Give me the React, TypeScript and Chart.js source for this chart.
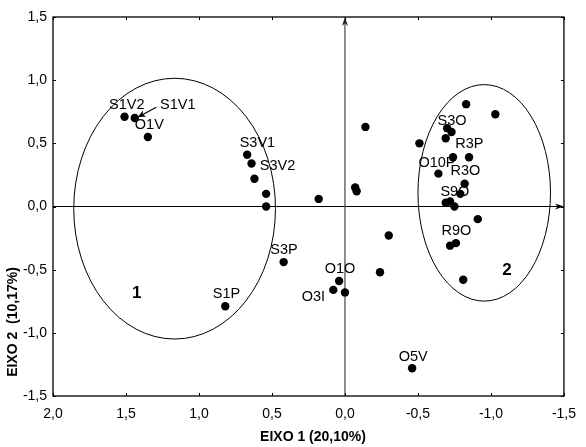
import React, { useEffect, useRef } from "react";
import { Chart, registerables } from "chart.js";

Chart.register(...registerables);

// ---- data (EIXO 1 = x, EIXO 2 = y) ----
const pointX = [
  1.51, 1.44, 1.35, 0.67, 0.64, 0.62, 0.54, 0.54, 0.18, -0.07, -0.08, -0.14, -0.51,
  -0.83, -1.03, -0.7, -0.73, -0.69, -0.74, -0.85, -0.64, -0.82, -0.79, -0.69, -0.72,
  -0.75, -0.91, -0.72, -0.76, -0.81, -0.3, -0.24, 0.42, 0.04, 0.08, 0.0, -0.46, 0.82,
];
const pointY = [
  0.71, 0.7, 0.55, 0.41, 0.34, 0.22, 0.1, 0.0, 0.06, 0.15, 0.12, 0.63, 0.5,
  0.81, 0.73, 0.62, 0.59, 0.54, 0.39, 0.39, 0.26, 0.18, 0.1, 0.03, 0.04,
  0.0, -0.1, -0.31, -0.29, -0.58, -0.23, -0.52, -0.44, -0.59, -0.66, -0.68, -1.28, -0.79,
];

// point labels: text and the data position of the text centre
const labelTexts = ["S1V2", "S1V1", "O1V", "S3V1", "S3V2", "S3P", "S1P", "O1O", "O3I", "O5V", "S3O", "R3P", "O10P", "R3O", "S9O", "R9O"];
const labelX = [1.495, 1.145, 1.34, 0.6, 0.462, 0.418, 0.812, 0.034, 0.216, -0.467, -0.733, -0.852, -0.63, -0.825, -0.753, -0.764];
const labelY = [0.801, 0.801, 0.643, 0.501, 0.319, -0.346, -0.694, -0.494, -0.72, -1.192, 0.68, 0.491, 0.345, 0.282, 0.111, -0.195];

// group ellipses
const groupTexts = ["1", "2"];
const groupX = [1.427, -1.11];
const groupY = [-0.684, -0.506];
const ellipseCX = [1.167, -0.954];
const ellipseCY = [-0.017, 0.108];
const ellipseRX = [0.691, 0.454];
const ellipseRY = [1.032, 0.857];

// arrow pointing to S1V1
const arrowFromXY = [1.292, 0.786];
const arrowToXY = [1.42, 0.707];

const xMin = -1.5;
const xMax = 2.0;
const yMin = -1.5;
const yMax = 1.5;
const tickStep = 0.5;
const xTitle = "EIXO 1 (20,10%)";
const yTitle = "EIXO 2  (10,17%)";

const FONT = '"Liberation Sans", Arial, sans-serif';
const fmt = (v: number) => (Math.abs(v) < 1e-9 ? 0 : v).toFixed(1).replace(".", ",");

function arrowHead(ctx: CanvasRenderingContext2D, tx: number, ty: number, angle: number, len: number, half: number) {
  ctx.save();
  ctx.translate(tx, ty);
  ctx.rotate(angle);
  ctx.beginPath();
  ctx.moveTo(0, 0);
  ctx.lineTo(-len, -half);
  ctx.lineTo(-len * 0.7, 0);
  ctx.lineTo(-len, half);
  ctx.closePath();
  ctx.fill();
  ctx.restore();
}

const decor = {
  id: "decor",
  beforeDatasetsDraw(chart: any) {
    const { ctx, chartArea: a, scales } = chart;
    const xs = scales.x;
    const ys = scales.y;
    ctx.save();
    // ellipses
    ctx.strokeStyle = "#000";
    ctx.lineWidth = 1;
    for (let i = 0; i < ellipseCX.length; i++) {
      const cx = xs.getPixelForValue(ellipseCX[i]);
      const cy = ys.getPixelForValue(ellipseCY[i]);
      const rx = Math.abs(xs.getPixelForValue(ellipseCX[i] + ellipseRX[i]) - cx);
      const ry = Math.abs(ys.getPixelForValue(ellipseCY[i] + ellipseRY[i]) - cy);
      ctx.beginPath();
      ctx.ellipse(cx, cy, rx, ry, 0, 0, Math.PI * 2);
      ctx.stroke();
    }
    // axes through origin
    const x0 = xs.getPixelForValue(0);
    const y0 = ys.getPixelForValue(0);
    ctx.lineWidth = 1.2;
    ctx.strokeStyle = "#000";
    ctx.beginPath();
    ctx.moveTo(a.left, y0);
    ctx.lineTo(a.right - 4, y0);
    ctx.stroke();
    ctx.fillStyle = "#000";
    arrowHead(ctx, a.right, y0, 0, 9, 3);
    ctx.strokeStyle = "#444";
    ctx.beginPath();
    ctx.moveTo(x0, a.bottom);
    ctx.lineTo(x0, a.top + 4);
    ctx.stroke();
    ctx.fillStyle = "#222";
    arrowHead(ctx, x0, a.top, -Math.PI / 2, 9, 3);

    // point labels
    ctx.fillStyle = "#000";
    ctx.font = `14.5px ${FONT}`;
    ctx.textAlign = "center";
    ctx.textBaseline = "middle";
    for (let i = 0; i < labelTexts.length; i++) {
      ctx.fillText(labelTexts[i], xs.getPixelForValue(labelX[i]), ys.getPixelForValue(labelY[i]));
    }
    // group labels
    ctx.font = `bold 17px ${FONT}`;
    for (let i = 0; i < groupTexts.length; i++) {
      ctx.fillText(groupTexts[i], xs.getPixelForValue(groupX[i]), ys.getPixelForValue(groupY[i]));
    }
    // arrow to S1V1
    const ax1 = xs.getPixelForValue(arrowFromXY[0]);
    const ay1 = ys.getPixelForValue(arrowFromXY[1]);
    const ax2 = xs.getPixelForValue(arrowToXY[0]);
    const ay2 = ys.getPixelForValue(arrowToXY[1]);
    ctx.strokeStyle = "#000";
    ctx.lineWidth = 1.2;
    ctx.beginPath();
    ctx.moveTo(ax1, ay1);
    ctx.lineTo(ax2, ay2);
    ctx.stroke();
    arrowHead(ctx, ax2, ay2, Math.atan2(ay2 - ay1, ax2 - ax1), 8, 3.5);
    ctx.restore();
  },
  afterDraw(chart: any) {
    const { ctx, chartArea: a, scales } = chart;
    const xs = scales.x;
    const ys = scales.y;
    ctx.save();
    ctx.strokeStyle = "#000";
    ctx.lineWidth = 1.3;
    ctx.strokeRect(a.left, a.top, a.right - a.left, a.bottom - a.top);
    // inward tick marks on all four sides
    ctx.lineWidth = 1;
    const tl = 3;
    ctx.beginPath();
    for (let v = xMin; v <= xMax + 1e-9; v += tickStep) {
      const px = Math.round(xs.getPixelForValue(v)) + 0.5;
      ctx.moveTo(px, a.bottom);
      ctx.lineTo(px, a.bottom - tl);
      ctx.moveTo(px, a.top);
      ctx.lineTo(px, a.top + tl);
    }
    for (let v = yMin; v <= yMax + 1e-9; v += tickStep) {
      const py = Math.round(ys.getPixelForValue(v)) + 0.5;
      ctx.moveTo(a.left, py);
      ctx.lineTo(a.left + tl, py);
      ctx.moveTo(a.right, py);
      ctx.lineTo(a.right - tl, py);
    }
    ctx.stroke();
    // axis titles
    ctx.fillStyle = "#000";
    ctx.font = `bold 14px ${FONT}`;
    ctx.textAlign = "center";
    ctx.textBaseline = "middle";
    ctx.fillText(xTitle, 313, 437);
    ctx.translate(13, 322);
    ctx.rotate(-Math.PI / 2);
    ctx.fillText(yTitle, 0, 0);
    ctx.restore();
  },
};

export default function App() {
  const ref = useRef<HTMLCanvasElement>(null);
  useEffect(() => {
    if (!ref.current) return;
    const data = pointX.map((x, i) => ({ x, y: pointY[i] }));
    const chart = new Chart(ref.current, {
      type: "scatter",
      data: {
        datasets: [
          {
            data,
            backgroundColor: "#000",
            borderWidth: 0,
            pointRadius: 4.2,
            pointHoverRadius: 4.2,
          },
        ],
      },
      options: {
        animation: false,
        responsive: false,
        devicePixelRatio: 1,
        events: [],
        layout: { padding: { top: 17, right: 13, bottom: 0, left: 0 } },
        plugins: { legend: { display: false }, tooltip: { enabled: false } },
        scales: {
          x: {
            type: "linear",
            reverse: true,
            min: xMin,
            max: xMax,
            grid: { display: false, drawTicks: false },
            border: { display: false },
            ticks: {
              stepSize: tickStep,
              color: "#000",
              font: { family: FONT, size: 14 },
              padding: 10,
              callback: (v: any) => fmt(Number(v)),
            },
            afterFit: (s: any) => {
              s.height = 51;
            },
          },
          y: {
            type: "linear",
            min: yMin,
            max: yMax,
            grid: { display: false, drawTicks: false },
            border: { display: false },
            ticks: {
              stepSize: tickStep,
              color: "#000",
              font: { family: FONT, size: 14 },
              padding: 6,
              callback: (v: any) => fmt(Number(v)),
            },
            afterFit: (s: any) => {
              s.width = 53;
            },
          },
        },
      },
      plugins: [decor],
    });
    return () => chart.destroy();
  }, []);
  return (
    <div style={{ position: "fixed", left: 0, top: 0, width: 586, height: 447, background: "#fff" }}>
      <canvas ref={ref} width={586} height={447} />
    </div>
  );
}
